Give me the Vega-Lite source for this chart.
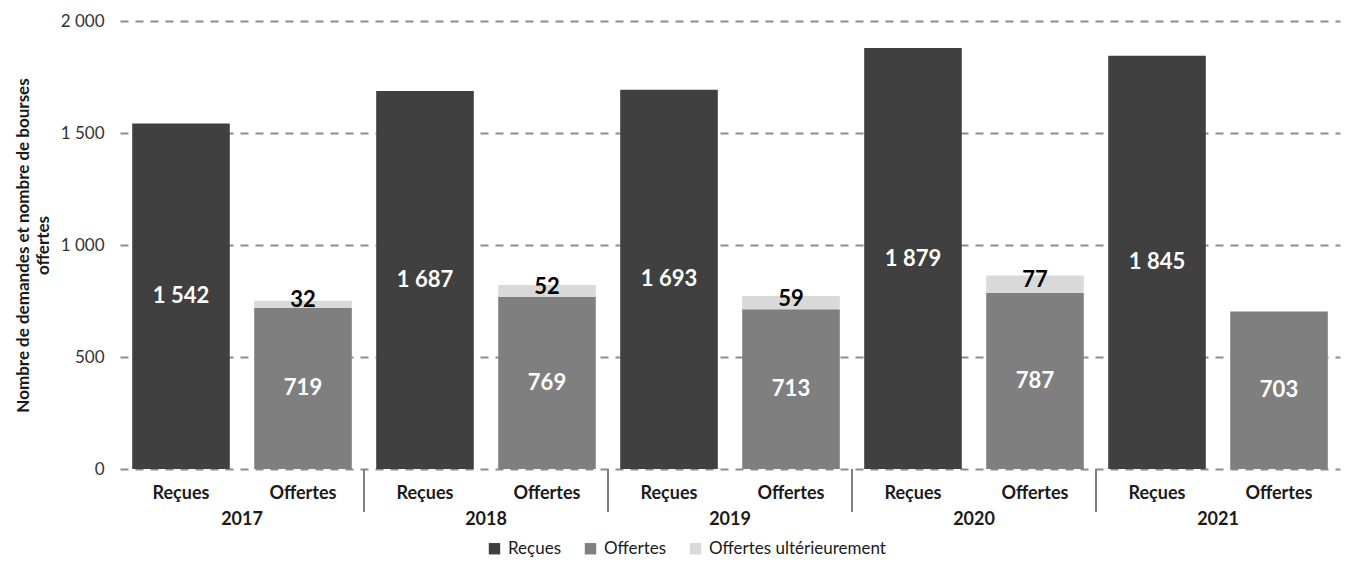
{
  "$schema": "https://vega.github.io/schema/vega-lite/v6.json",
  "width": 1220,
  "height": 448,
  "autosize": {"type": "none"},
  "padding": {"left": 120, "top": 21, "right": 23, "bottom": 112},
  "background": "white",
  "config": {
    "font": "Lato",
    "view": {"stroke": null},
    "locale": {"number": {"decimal": ",", "thousands": "\u00a0", "grouping": [3], "currency": ["", " €"]}}
  },
  "data": {
    "values": [
      {"year": "2017", "grp": "Reçues", "serie": "Reçues", "value": 1542},
      {"year": "2017", "grp": "Offertes", "serie": "Offertes", "value": 719},
      {"year": "2017", "grp": "Offertes", "serie": "Offertes ultérieurement", "value": 32},
      {"year": "2018", "grp": "Reçues", "serie": "Reçues", "value": 1687},
      {"year": "2018", "grp": "Offertes", "serie": "Offertes", "value": 769},
      {"year": "2018", "grp": "Offertes", "serie": "Offertes ultérieurement", "value": 52},
      {"year": "2019", "grp": "Reçues", "serie": "Reçues", "value": 1693},
      {"year": "2019", "grp": "Offertes", "serie": "Offertes", "value": 713},
      {"year": "2019", "grp": "Offertes", "serie": "Offertes ultérieurement", "value": 59},
      {"year": "2020", "grp": "Reçues", "serie": "Reçues", "value": 1879},
      {"year": "2020", "grp": "Offertes", "serie": "Offertes", "value": 787},
      {"year": "2020", "grp": "Offertes", "serie": "Offertes ultérieurement", "value": 77},
      {"year": "2021", "grp": "Reçues", "serie": "Reçues", "value": 1845},
      {"year": "2021", "grp": "Offertes", "serie": "Offertes", "value": 703}
    ]
  },
  "layer": [
    {
      "mark": {"type": "bar"},
      "encoding": {
        "x": {
          "field": "year", "type": "nominal",
          "scale": {"paddingInner": 0, "paddingOuter": 0},
          "axis": null
        },
        "xOffset": {
          "field": "grp", "type": "nominal",
          "sort": ["Reçues", "Offertes"],
          "scale": {"paddingInner": 0.2, "paddingOuter": 0.1}
        },
        "y": {
          "field": "value", "type": "quantitative", "stack": "zero",
          "scale": {"domain": [0, 2000]},
          "axis": {
            "title": ["Nombre de demandes et nombre de bourses", "offertes"],
            "titleFontSize": 17, "titleFontWeight": "bold", "titleColor": "#1a1a1a",
            "titleLineHeight": 20, "titlePadding": 8,
            "values": [0, 500, 1000, 1500, 2000], "format": ",d",
            "domain": false, "ticks": false, "labelPadding": 16,
            "labelFontSize": 17, "labelColor": "#333333",
            "grid": true, "gridColor": "#8c8c8c", "gridWidth": 2, "gridDash": [8, 7]
          }
        },
        "color": {
          "field": "serie", "type": "nominal",
          "scale": {
            "domain": ["Reçues", "Offertes", "Offertes ultérieurement"],
            "range": ["#404040", "#7f7f7f", "#d9d9d9"]
          },
          "legend": {
            "title": null, "orient": "none", "direction": "horizontal",
            "legendX": 366, "legendY": 519,
            "symbolType": "square", "symbolSize": 130, "symbolStrokeWidth": 0,
            "labelFontSize": 17, "labelColor": "#1a1a1a", "labelOffset": 5,
            "labelLimit": 400, "columnPadding": 20
          }
        },
        "order": {"field": "serie", "sort": "ascending"}
      }
    },
    {
      "mark": {"type": "text", "color": "white", "fontWeight": "bold", "fontSize": 22, "baseline": "middle"},
      "encoding": {
        "x": {"field": "year", "type": "nominal"},
        "xOffset": {"field": "grp", "type": "nominal", "sort": ["Reçues", "Offertes"]},
        "y": {"field": "value", "type": "quantitative", "stack": "zero", "bandPosition": 0.5},
        "detail": {"field": "serie", "type": "nominal"},
        "order": {"field": "serie", "sort": "ascending"},
        "text": {"field": "value", "type": "quantitative", "format": ",d"},
        "opacity": {"condition": {"test": "datum.serie === 'Offertes ultérieurement'", "value": 0}, "value": 1}
      }
    },
    {
      "mark": {"type": "text", "color": "#000000", "fontWeight": "bold", "fontSize": 22, "baseline": "middle", "dy": -4},
      "encoding": {
        "x": {"field": "year", "type": "nominal"},
        "xOffset": {"field": "grp", "type": "nominal", "sort": ["Reçues", "Offertes"]},
        "y": {"field": "value", "type": "quantitative", "stack": "zero", "bandPosition": 0.5},
        "detail": {"field": "serie", "type": "nominal"},
        "order": {"field": "serie", "sort": "ascending"},
        "text": {"field": "value", "type": "quantitative", "format": ",d"},
        "opacity": {"condition": {"test": "datum.serie === 'Offertes ultérieurement'", "value": 1}, "value": 0}
      }
    },
    {
      "transform": [{"filter": "datum.serie !== 'Offertes ultérieurement'"}],
      "mark": {"type": "text", "color": "#1a1a1a", "fontWeight": "bold", "fontSize": 18, "baseline": "middle", "dy": 25},
      "encoding": {
        "x": {"field": "year", "type": "nominal"},
        "xOffset": {"field": "grp", "type": "nominal", "sort": ["Reçues", "Offertes"]},
        "y": {"datum": 0, "type": "quantitative"},
        "text": {"field": "grp", "type": "nominal"}
      }
    },
    {
      "transform": [{"filter": "datum.serie === 'Reçues'"}],
      "mark": {"type": "text", "color": "#1a1a1a", "fontWeight": "bold", "fontSize": 18, "baseline": "middle", "dy": 51},
      "encoding": {
        "x": {"field": "year", "type": "nominal"},
        "y": {"datum": 0, "type": "quantitative"},
        "text": {"field": "year", "type": "nominal"}
      }
    },
    {
      "transform": [{"filter": "datum.serie === 'Reçues' && datum.year !== '2017'"}],
      "mark": {"type": "rule", "color": "#808080", "strokeWidth": 2},
      "encoding": {
        "x": {"field": "year", "type": "nominal", "bandPosition": 0},
        "y": {"datum": 0, "type": "quantitative"},
        "y2": {"datum": -192}
      }
    }
  ]
}
